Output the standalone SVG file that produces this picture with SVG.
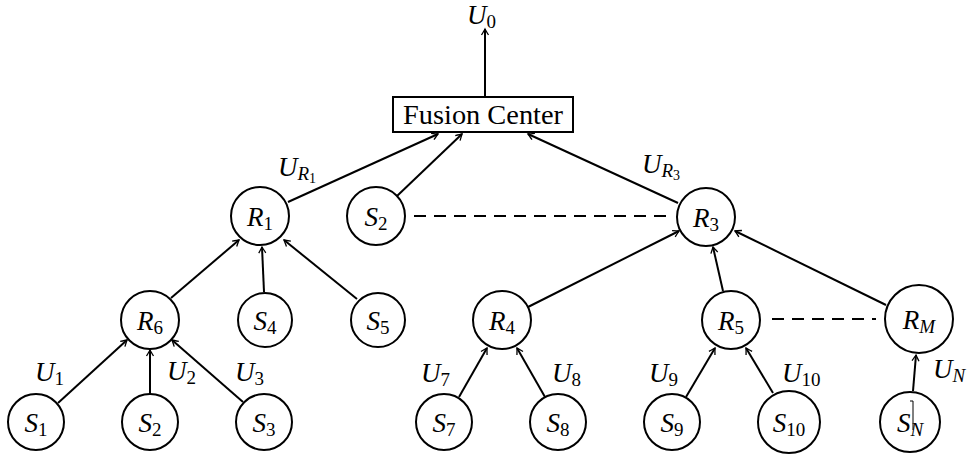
<svg xmlns="http://www.w3.org/2000/svg" width="971" height="455" viewBox="0 0 971 455">
<defs>
<marker id="ar" viewBox="-8 -5 10 10" refX="0" refY="0" markerWidth="10" markerHeight="10" markerUnits="userSpaceOnUse" orient="auto">
<path d="M -6,-3.5 Q -1.5,-0.8 0,0 Q -1.5,0.8 -6,3.5" fill="none" stroke="#000" stroke-width="1.3"/>
</marker>
</defs>
<style>
circle{fill:#fff;stroke:#000;stroke-width:2}
rect{fill:#fff;stroke:#000;stroke-width:2}
.e{stroke:#000;stroke-width:2;fill:none}
.a{marker-end:url(#ar)}
.d{stroke:#000;stroke-width:2;stroke-dasharray:12,8;fill:none}
text{font-family:"Liberation Serif","DejaVu Serif",serif;font-size:27px;fill:#000;text-anchor:middle}
.l{text-anchor:start}
.i{font-style:italic}
.s{font-size:19px}
.ss{font-size:14px}
</style>
<g id="connectors">
<line class="e a" x1="485" y1="96" x2="485" y2="29"/>
<line class="e a" x1="288" y1="202" x2="438" y2="134"/>
<line class="e a" x1="397" y1="196" x2="462" y2="134"/>
<line class="e a" x1="678" y1="203" x2="528" y2="134"/>
<line class="d" x1="414" y1="216" x2="672" y2="216"/>
<line class="e a" x1="171" y1="298" x2="239" y2="240"/>
<line class="e a" x1="264" y1="292" x2="262" y2="247"/>
<line class="e a" x1="357" y1="299" x2="284" y2="240"/>
<line class="e a" x1="528" y1="307" x2="679" y2="231"/>
<line class="e a" x1="723" y1="291" x2="713" y2="247"/>
<line class="e a" x1="886" y1="305" x2="735" y2="231"/>
<line class="d" x1="772" y1="319" x2="876" y2="319"/>
<line class="e a" x1="58" y1="403" x2="127" y2="340"/>
<line class="e a" x1="150" y1="394" x2="150" y2="350"/>
<line class="e a" x1="243" y1="402" x2="172" y2="340"/>
<line class="e a" x1="459" y1="397" x2="487" y2="348"/>
<line class="e a" x1="545" y1="397" x2="517" y2="348"/>
<line class="e a" x1="686" y1="397" x2="715" y2="348"/>
<line class="e a" x1="773" y1="393" x2="746" y2="348"/>
<line class="e a" x1="913" y1="391" x2="916" y2="355"/>
</g>
<g id="U0"><text class="l" x="467" y="24"><tspan class="i">U</tspan><tspan class="s" dy="4">0</tspan></text></g>
<g id="fusion"><rect x="393" y="97" width="180" height="35"/><text x="483" y="124" font-size="26" textLength="160" lengthAdjust="spacingAndGlyphs">Fusion Center</text></g>
<g id="R1"><circle cx="260" cy="216" r="29"/><text x="260" y="226"><tspan class="i">R</tspan><tspan class="s" dy="4">1</tspan></text></g>
<g id="S2top"><circle cx="376" cy="216" r="29"/><text x="376" y="226"><tspan class="i">S</tspan><tspan class="s" dy="4">2</tspan></text></g>
<g id="R3"><circle cx="706" cy="217" r="29"/><text x="706" y="227"><tspan class="i">R</tspan><tspan class="s" dy="4">3</tspan></text></g>
<g id="R6"><circle cx="150" cy="320" r="29"/><text x="150" y="330"><tspan class="i">R</tspan><tspan class="s" dy="4">6</tspan></text></g>
<g id="S4"><circle cx="265" cy="320" r="27"/><text x="265" y="330"><tspan class="i">S</tspan><tspan class="s" dy="4">4</tspan></text></g>
<g id="S5"><circle cx="378" cy="320" r="27"/><text x="378" y="330"><tspan class="i">S</tspan><tspan class="s" dy="4">5</tspan></text></g>
<g id="R4"><circle cx="502" cy="320" r="29"/><text x="502" y="330"><tspan class="i">R</tspan><tspan class="s" dy="4">4</tspan></text></g>
<g id="R5"><circle cx="731" cy="320" r="29"/><text x="731" y="330"><tspan class="i">R</tspan><tspan class="s" dy="4">5</tspan></text></g>
<g id="RM"><circle cx="919" cy="319" r="34"/><text x="919" y="329"><tspan class="i">R</tspan><tspan class="s i" dy="4">M</tspan></text></g>
<g id="S1"><circle cx="36" cy="422" r="28"/><text x="36" y="432"><tspan class="i">S</tspan><tspan class="s" dy="4">1</tspan></text></g>
<g id="S2"><circle cx="150" cy="422" r="28"/><text x="150" y="432"><tspan class="i">S</tspan><tspan class="s" dy="4">2</tspan></text></g>
<g id="S3"><circle cx="264" cy="422" r="28"/><text x="264" y="432"><tspan class="i">S</tspan><tspan class="s" dy="4">3</tspan></text></g>
<g id="S7"><circle cx="444" cy="422" r="28"/><text x="444" y="432"><tspan class="i">S</tspan><tspan class="s" dy="4">7</tspan></text></g>
<g id="S8"><circle cx="558" cy="422" r="28"/><text x="558" y="432"><tspan class="i">S</tspan><tspan class="s" dy="4">8</tspan></text></g>
<g id="S9"><circle cx="672" cy="422" r="28"/><text x="672" y="432"><tspan class="i">S</tspan><tspan class="s" dy="4">9</tspan></text></g>
<g id="S10"><circle cx="789" cy="422" r="31"/><text x="789" y="432"><tspan class="i">S</tspan><tspan class="s" dy="4">10</tspan></text></g>
<g id="SN"><circle cx="910" cy="422" r="30"/><text x="910" y="432"><tspan class="i">S</tspan><tspan class="s i" dy="4">N</tspan></text><path d="M 910,401 H 913 V 430" fill="none" stroke="#000" stroke-width="1"/></g>
<g id="labels">
<text class="l" x="278" y="176"><tspan class="i">U</tspan><tspan class="s i" dy="4">R</tspan><tspan class="ss" dy="3">1</tspan></text>
<text class="l" x="642" y="173"><tspan class="i">U</tspan><tspan class="s i" dy="4">R</tspan><tspan class="ss" dy="3">3</tspan></text>
<text class="l" x="35" y="381"><tspan class="i">U</tspan><tspan class="s" dy="4">1</tspan></text>
<text class="l" x="167" y="380"><tspan class="i">U</tspan><tspan class="s" dy="4">2</tspan></text>
<text class="l" x="235" y="381"><tspan class="i">U</tspan><tspan class="s" dy="4">3</tspan></text>
<text class="l" x="421" y="382"><tspan class="i">U</tspan><tspan class="s" dy="4">7</tspan></text>
<text class="l" x="552" y="382"><tspan class="i">U</tspan><tspan class="s" dy="4">8</tspan></text>
<text class="l" x="649" y="382"><tspan class="i">U</tspan><tspan class="s" dy="4">9</tspan></text>
<text class="l" x="782" y="382"><tspan class="i">U</tspan><tspan class="s" dy="4">10</tspan></text>
<text class="l" x="933" y="378"><tspan class="i">U</tspan><tspan class="s i" dy="4">N</tspan></text>
</g>
</svg>
